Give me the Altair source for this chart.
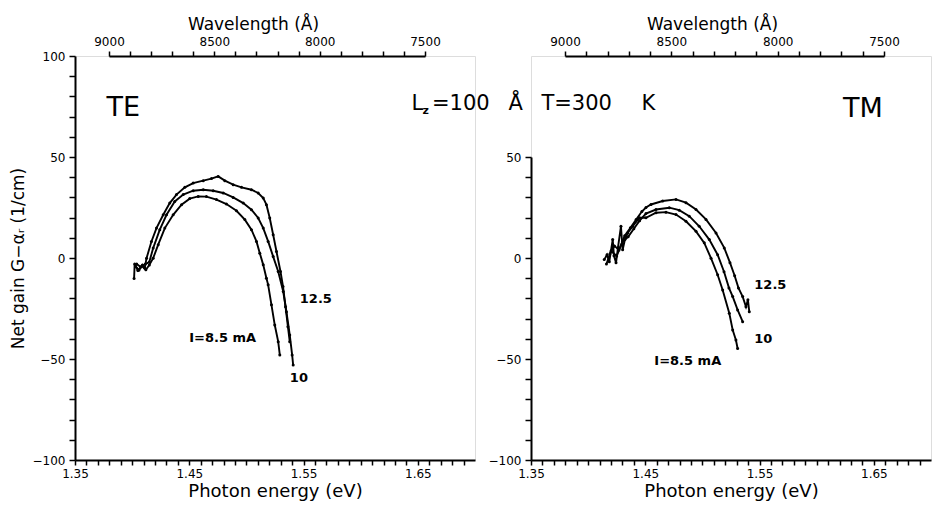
import altair as alt
import pandas as pd

# ---------------- data ----------------
# TE panel, net gain (1/cm) vs photon energy (eV)
te_85_x = [1.4017, 1.4022, 1.4050, 1.4085, 1.4120, 1.4150, 1.4184, 1.4228, 1.4286, 1.4359, 1.4432,
           1.4504, 1.4578, 1.4650, 1.4738, 1.4825, 1.4913, 1.4986, 1.5044, 1.5088, 1.5117, 1.5147,
           1.5175, 1.5190, 1.5219, 1.5248, 1.5278, 1.5292]
te_85_y = [-10.2, -3.0, -6.2, -4.0, -5.8, -3.5, -0.1, 6.6, 14.8, 21.4, 26.4,
           29.4, 30.5, 30.4, 28.9, 26.7, 23.4, 19.0, 14.0, 8.2, 2.4, -3.4,
           -10.0, -13.3, -23.2, -33.2, -41.4, -48.0]
te_10_x = [1.4040, 1.4075, 1.4115, 1.4150, 1.4184, 1.4242, 1.4301, 1.4373, 1.4447, 1.4534, 1.4622,
           1.4709, 1.4797, 1.4884, 1.4972, 1.5044, 1.5103, 1.5147, 1.5190, 1.5234, 1.5278, 1.5322,
           1.5350, 1.5379, 1.5400, 1.5409]
te_10_y = [-3.0, -4.5, -3.0, -2.0, 4.9, 14.0, 21.4, 28.0, 31.4, 33.3, 33.8,
           33.3, 32.2, 30.0, 27.2, 23.9, 19.8, 14.8, 8.2, 0.7, -6.7, -16.6,
           -26.6, -38.1, -48.0, -53.0]
te_125_x = [1.4030, 1.4060, 1.4090, 1.4110, 1.4126, 1.4169, 1.4213, 1.4272, 1.4329, 1.4388, 1.4461,
            1.4534, 1.4622, 1.4694, 1.4753, 1.4811, 1.4884, 1.4957, 1.5044, 1.5103, 1.5147, 1.5175,
            1.5204, 1.5234, 1.5263, 1.5298, 1.5320, 1.5342, 1.5363, 1.5379]
te_125_y = [-4.0, -6.0, -3.5, -5.0, -0.1, 8.2, 14.8, 21.4, 27.2, 31.4, 35.0,
            37.1, 38.3, 39.3, 40.4, 38.3, 36.3, 35.0, 33.8, 32.2, 29.7, 26.4,
            19.8, 11.5, 3.2, -6.7, -14.1, -24.1, -34.0, -41.4]

# TM panel
tm_85_x = [1.4141, 1.4165, 1.4185, 1.4215, 1.4226, 1.4244, 1.4261, 1.4287, 1.4302, 1.4322, 1.4346,
           1.4390, 1.4448, 1.4506, 1.4594, 1.4681, 1.4769, 1.4856, 1.4944, 1.5016, 1.5075, 1.5133,
           1.5177, 1.5235, 1.5265, 1.5293, 1.5308]
tm_85_y = [-0.8, 1.6, -1.8, 9.1, 1.1, -2.3, 5.1, 15.7, 4.1, 9.1, 12.4,
           15.7, 19.9, 19.9, 22.4, 22.7, 21.5, 18.2, 13.2, 7.5, -0.1, -8.3,
           -15.8, -27.4, -35.7, -40.6, -44.8]
tm_10_x = [1.4160, 1.4200, 1.4250, 1.4300, 1.4350, 1.4400, 1.4450, 1.4506, 1.4594, 1.4710, 1.4797,
           1.4885, 1.4972, 1.5060, 1.5133, 1.5189, 1.5232, 1.5265, 1.5308, 1.5352]
tm_10_y = [-3.0, 3.5, 1.0, 8.0, 10.5, 14.5, 18.5, 22.0, 24.0, 24.9, 23.7,
           20.7, 15.7, 9.1, 1.6, -6.8, -14.8, -19.1, -25.7, -31.5]
tm_125_x = [1.4190, 1.4230, 1.4270, 1.4320, 1.4370, 1.4420, 1.4470, 1.4506, 1.4550, 1.4652, 1.4769,
            1.4856, 1.4944, 1.5031, 1.5119, 1.5191, 1.5241, 1.5282, 1.5315, 1.5352, 1.5381, 1.5398,
            1.5410]
tm_125_y = [2.0, 6.0, 4.0, 11.0, 15.0, 19.0, 23.0, 25.0, 26.5, 28.2, 29.0,
            27.4, 24.0, 19.1, 12.4, 5.0, -2.3, -8.8, -14.8, -19.1, -24.1, -20.7,
            -26.6]

# axis tick values
energy_ticks = [round(1.35 + 0.01 * i, 2) for i in range(35)]
wavelength_ticks = list(range(9000, 7499, -100))
te_gain_ticks = list(range(-100, 101, 10))
tm_gain_ticks = list(range(-100, 51, 10))

# annotation texts (placed in data coordinates)
te_curve_text = ["12.5", "I=8.5  mA", "10"]
te_curve_E = [1.5467, 1.4499, 1.5380]
te_curve_G = [-20.5, -39.5, -59.5]
tm_curve_text = ["12.5", "10", "I=8.5  mA"]
tm_curve_E = [1.5454, 1.5454, 1.4579]
tm_curve_G = [-13.5, -40.0, -51.0]
head_text = ["L", "=100", "Å", "T=300", "K"]
head_E = [1.6444, 1.6624, 1.7293, 1.7581, 1.8456]
head_G = [76.2, 76.2, 76.2, 76.2, 76.2]
sub_text = ["z"]
sub_E = [1.6540]
sub_G = [73.0]

FONT = "DejaVu Sans"
W, H = 400, 404


def frame(xs, ys, cur):
    return pd.DataFrame({"E": xs, "G": ys, "I": cur, "idx": list(range(len(xs)))})


te_df = pd.concat([frame(te_85_x, te_85_y, "8.5"), frame(te_10_x, te_10_y, "10"),
                   frame(te_125_x, te_125_y, "12.5")])
tm_df = pd.concat([frame(tm_85_x, tm_85_y, "8.5"), frame(tm_10_x, tm_10_y, "10"),
                   frame(tm_125_x, tm_125_y, "12.5")])

COMMON = dict(labelFont=FONT, labelFontSize=12, labelColor="black",
              titleFont=FONT, titleFontWeight="normal", titleColor="black",
              domainColor="black", domainWidth=2, tickColor="black", tickWidth=1.5,
              grid=False, labelFlush=False, labelOverlap=False)


def energy_axis():
    test = "(round(datum.value*100) - 35) % 10 === 0"
    return alt.Axis(values=energy_ticks, title="Photon energy (eV)",
                    labelExpr=test + " ? format(datum.value, '.2f') : ''",
                    tickSize=5, labelPadding=3, titleFontSize=18, titlePadding=3, **COMMON)


def gain_axis(ticks, title):
    test = "datum.value % 50 === 0"
    return alt.Axis(values=ticks, title=title,
                    labelExpr=test + " ? format(datum.value, 'd') : ''",
                    tickSize=6, labelPadding=4, titleFontSize=17, titlePadding=5, **COMMON)


def wave_axis(title_x):
    test = "datum.value % 500 === 0"
    return alt.Axis(orient="top", values=wavelength_ticks, title="Wavelength  (Å)",
                    labelExpr=test + " ? format(datum.value, 'd') : ''",
                    tickSize=5, labelPadding=3, titleFontSize=17, titlePadding=2,
                    titleX=title_x, **COMMON)


def text_layer(t, e, g, size, xe, ye, weight="normal"):
    d = pd.DataFrame({"t": t, "E": e, "G": g})
    return alt.Chart(d).mark_text(font=FONT, fontSize=size, fontWeight=weight, align="left",
                                  baseline="middle", color="black").encode(
        x=xe, y=ye, text="t:N")


def panel(df, gdomain, grange, gticks, ytitle, wl_range, title_x, text_specs):
    xsc = alt.Scale(domain=[1.35, 1.70], nice=False, zero=False)
    ysc = alt.Scale(domain=gdomain, range=grange, nice=False, zero=False)
    xe = alt.X("E:Q", scale=xsc, axis=energy_axis())
    ye = alt.Y("G:Q", scale=ysc, axis=gain_axis(gticks, ytitle))
    base = alt.Chart(df)
    line = base.mark_line(color="black", strokeWidth=1.9).encode(
        x=xe, y=ye, detail="I:N", order="idx:Q")
    pts = base.mark_circle(color="black", size=9, opacity=1).encode(x=xe, y=ye)
    texts = [text_layer(*spec[:4], xe, ye, *spec[4:]) for spec in text_specs]
    energy_part = alt.layer(line, pts, *texts)
    wl = alt.Chart(pd.DataFrame({"W": wavelength_ticks})).mark_point(opacity=0).encode(
        x=alt.X("W:Q", scale=alt.Scale(domain=[9000, 7500], range=wl_range, nice=False, zero=False),
                axis=wave_axis(title_x)))
    return alt.layer(energy_part, wl).resolve_scale(x="independent").properties(width=W, height=H)


te_specs = [
    (te_curve_text, te_curve_E, te_curve_G, 13, "bold"),
    (["TE"], [1.3776], [74.2], 27, "normal"),
    (head_text, head_E, head_G, 21, "normal"),
    (sub_text, sub_E, sub_G, 11, "bold"),
]
tm_specs = [
    (tm_curve_text, tm_curve_E, tm_curve_G, 13, "bold"),
    (["TM"], [1.6230], [73.8], 27, "normal"),
]

left = panel(te_df, [-100, 100], [H, 0], te_gain_ticks, "Net gain  G−αᵣ  (1/cm)",
             [34, 350], 178, te_specs)
right = panel(tm_df, [-100, 50], [H, 101], tm_gain_ticks, None, [34, 353], 181, tm_specs)

chart = alt.hconcat(left, right, spacing=56, bounds="flush").properties(
    padding={"left": 8, "top": 14, "right": 2, "bottom": 2}
).configure_view(strokeWidth=0).configure(font=FONT, background="white")

chart.save("out.html", embed_options={"renderer": "svg", "actions": False})
